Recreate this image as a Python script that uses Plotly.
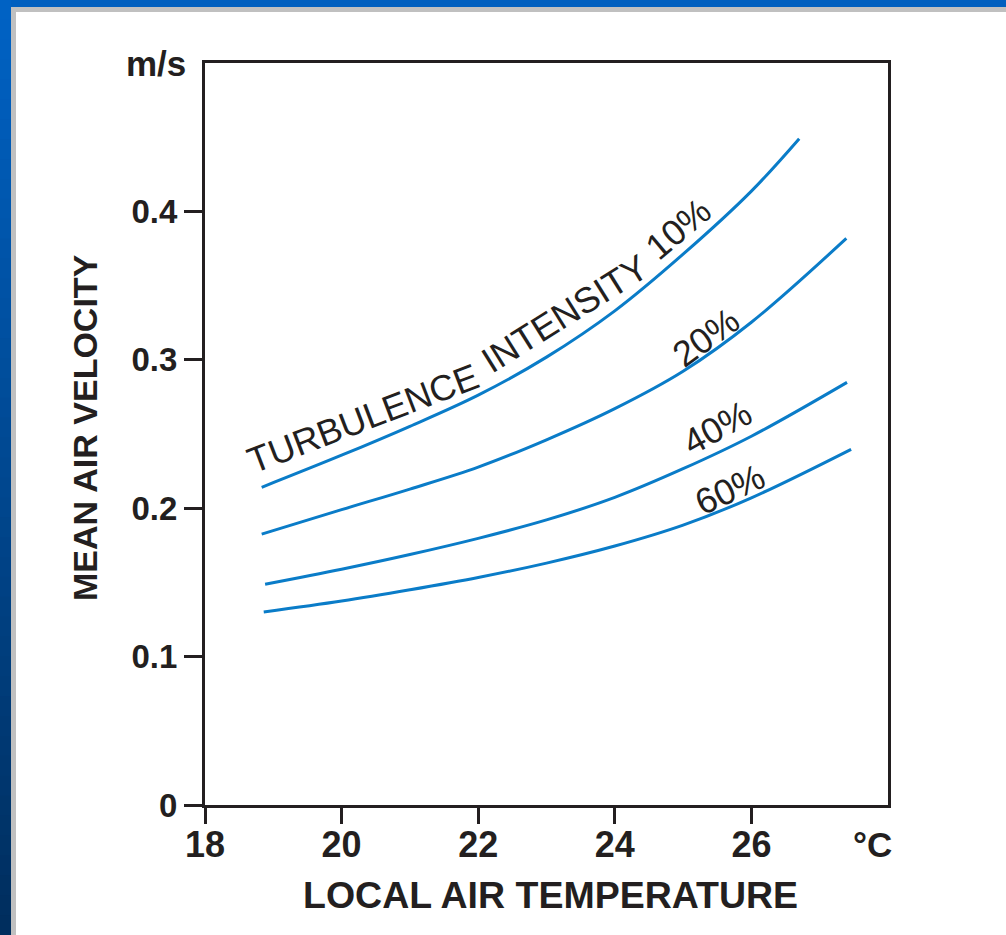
import plotly.graph_objects as go

# ---------------- data ----------------
temp_10 = [18.83, 20.0, 21.0, 22.0, 23.0, 24.0, 25.0, 26.0, 26.70]
vel_10 = [0.2141, 0.2357, 0.2552, 0.2762, 0.3018, 0.3330, 0.3712, 0.4137, 0.449]

temp_20 = [18.83, 20.0, 21.0, 22.0, 23.0, 24.0, 25.0, 26.0, 27.39]
vel_20 = [0.1825, 0.1990, 0.2129, 0.2277, 0.2461, 0.2671, 0.2923, 0.3253, 0.3818]

temp_40 = [18.88, 20.0, 21.0, 22.0, 23.0, 24.0, 25.0, 26.0, 27.40]
vel_40 = [0.1488, 0.1589, 0.1688, 0.1797, 0.1921, 0.2073, 0.2266, 0.2485, 0.2848]

temp_60 = [18.86, 20.0, 21.0, 22.0, 23.0, 24.0, 25.0, 26.0, 27.46]
vel_60 = [0.1300, 0.1374, 0.1450, 0.1533, 0.1630, 0.1745, 0.1886, 0.2070, 0.2397]

x_ticks = [18, 20, 22, 24, 26]
x_tick_labels = ["18", "20", "22", "24", "26"]
y_ticks = [0, 0.1, 0.2, 0.3, 0.4]
y_tick_labels = ["0", "0.1", "0.2", "0.3", "0.4"]

series = [
    (temp_10, vel_10, "10%"),
    (temp_20, vel_20, "20%"),
    (temp_40, vel_40, "40%"),
    (temp_60, vel_60, "60%"),
]

# ---------------- style ----------------
W, H = 1006, 935
L, R, T, B = 205, 888, 63, 805
INK = "#231f20"
BLUE = "#0a7cc8"
FONT = "Liberation Sans, Arial, sans-serif"


def px_x(p):
    return (p - L) / (R - L)


def px_y(p):
    return (B - p) / (B - T)


fig = go.Figure()
for tx, vy, name in series:
    fig.add_trace(go.Scatter(
        x=tx, y=vy, mode="lines", name=name,
        line=dict(color=BLUE, width=3, shape="spline", smoothing=1.0),
        hoverinfo="skip", showlegend=False,
    ))

shapes = []
# top blue bar
shapes.append(dict(type="rect", xref="paper", yref="paper",
                   x0=px_x(0), x1=px_x(W), y0=px_y(7), y1=px_y(0),
                   fillcolor="#005fbf", line=dict(width=0), layer="below"))
# left gradient bar
n = 47
c0 = (0, 98, 196)
c1 = (0, 46, 94)
for i in range(n):
    f = i / (n - 1)
    col = "rgb(%d,%d,%d)" % tuple(round(a + (b - a) * f) for a, b in zip(c0, c1))
    y0p = i * H / n
    y1p = (i + 1) * H / n + 1
    shapes.append(dict(type="rect", xref="paper", yref="paper",
                       x0=px_x(0), x1=px_x(11), y0=px_y(y1p), y1=px_y(y0p),
                       fillcolor=col, line=dict(width=0), layer="below"))
# grey bevel strips
shapes.append(dict(type="rect", xref="paper", yref="paper",
                   x0=px_x(11), x1=px_x(W), y0=px_y(12), y1=px_y(7),
                   fillcolor="#c0c0c0", line=dict(width=0), layer="below"))
shapes.append(dict(type="rect", xref="paper", yref="paper",
                   x0=px_x(11), x1=px_x(16), y0=px_y(H), y1=px_y(7),
                   fillcolor="#c0c0c0", line=dict(width=0), layer="below"))

label_font = dict(family=FONT, size=36, color=INK)
annotations = [
    dict(x=20.31, y=0.2605, text="TURBULENCE", textangle=-21),
    dict(x=23.27, y=0.331, text="INTENSITY", textangle=-32),
    dict(x=24.93, y=0.3886, text="10%", textangle=-40),
    dict(x=25.33, y=0.315, text="20%", textangle=-36),
    dict(x=25.50, y=0.2545, text="40%", textangle=-29),
    dict(x=25.68, y=0.2125, text="60%", textangle=-25),
]
for a in annotations:
    a.update(xref="x", yref="y", showarrow=False, font=label_font,
             xanchor="center", yanchor="middle")

bold = dict(family=FONT, size=34, color=INK, weight="bold")
annotations += [
    dict(xref="paper", yref="paper", x=px_x(85), y=px_y(428),
         text="MEAN AIR VELOCITY", textangle=-90, showarrow=False,
         font=bold, xanchor="center", yanchor="middle"),
    dict(xref="paper", yref="paper", x=px_x(550), y=px_y(895),
         text="LOCAL AIR TEMPERATURE", showarrow=False,
         font=dict(family=FONT, size=37.5, color=INK, weight="bold"),
         xanchor="center", yanchor="middle"),
    dict(xref="paper", yref="paper", x=px_x(156), y=px_y(64),
         text="m/s", showarrow=False,
         font=dict(family=FONT, size=35, color=INK, weight="bold"),
         xanchor="center", yanchor="middle"),
    dict(xref="paper", yref="paper", x=px_x(872), y=px_y(844),
         text="°C", showarrow=False,
         font=dict(family=FONT, size=35, color=INK, weight="bold"),
         xanchor="center", yanchor="middle"),
]

fig.update_layout(
    width=W, height=H,
    margin=dict(l=L, r=W - R, t=T, b=H - B, pad=0),
    paper_bgcolor="white", plot_bgcolor="white",
    shapes=shapes, annotations=annotations,
    showlegend=False,
)
fig.update_xaxes(
    range=[18, 28], tickvals=x_ticks, ticktext=x_tick_labels,
    showline=True, mirror=True, linecolor=INK, linewidth=3,
    ticks="outside", ticklen=16, tickwidth=3, tickcolor=INK,
    ticklabelstandoff=-10,
    showgrid=False, zeroline=False,
    tickfont=dict(family=FONT, size=36, color=INK, weight="bold"),
)
fig.update_yaxes(
    range=[0, 0.5], tickvals=y_ticks, ticktext=y_tick_labels,
    showline=True, mirror=True, linecolor=INK, linewidth=3,
    ticks="outside", ticklen=18, tickwidth=3, tickcolor=INK,
    showgrid=False, zeroline=False,
    tickfont=dict(family=FONT, size=33, color=INK, weight="bold"),
)

fig.write_html("out.html", config=dict(displayModeBar=False))
